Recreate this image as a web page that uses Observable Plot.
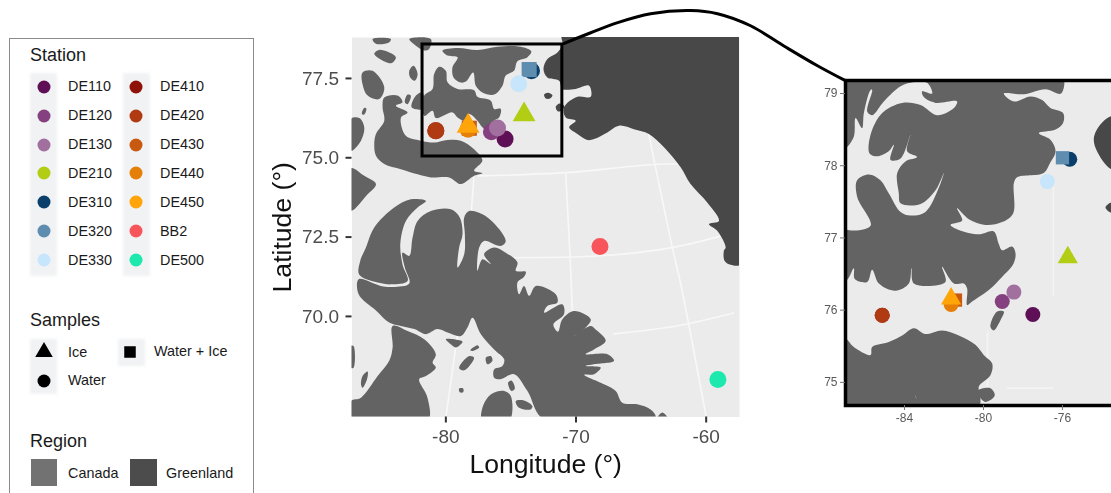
<!DOCTYPE html>
<html>
<head>
<meta charset="utf-8">
<script src="https://cdn.jsdelivr.net/npm/d3@7"></script>
<script src="https://cdn.jsdelivr.net/npm/@observablehq/plot@0.6"></script>
<style>
html,body{margin:0;padding:0;background:#fff;overflow:hidden;width:1111px;height:493px;}
#page{position:relative;width:1111px;height:493px;overflow:hidden;font-family:"Liberation Sans",Arial,sans-serif;}
#page > svg{position:absolute;left:0;top:0;max-width:none;filter:blur(0.35px);}
#legend{position:absolute;left:9px;top:38px;width:243px;height:470px;border:1px solid #8a8a8a;background:#fff;}
.t,.l,.k{position:absolute;}
.t{font-size:18px;color:#1a1a1a;line-height:20px;}
.l{font-size:14.4px;color:#1a1a1a;line-height:18px;white-space:nowrap;}
.k{background:#f1f2f4;filter:blur(1.5px);}
</style>
</head>
<body>
<div id="page"><div id="legend"></div></div>
<script>
// ---- stations ----
const stations = ["DE110","DE120","DE130","DE210","DE310","DE320","DE330","DE410","DE420","DE430","DE440","DE450","BB2","DE500"];
const stationColors = ["#5e0f55","#84407f","#a1709f","#b2cd14","#0a3f6b","#5f8db0","#c8e6fb","#8f1209","#b03a12","#c75a10","#e57f07","#ffa50a","#f8545c","#1de9ae"];
const sampleTypes = ["Ice","Water + Ice","Water"];
const sampleSymbols = ["triangle","square","circle"];
const stationSamples = ["Water","Water","Water","Ice","Water","Water + Ice","Water","Water","Water","Water + Ice","Water","Ice","Water","Water"];
const regionNames = ["Canada","Greenland"];
const regionColors = ["#636363","#484848"];
const legendRegionColors = ["#727272","#4c4c4c"];
const waterColor = "#ebebeb";

// main map positions of the stations (lon, lat)
const mainLon = [-75.45,-76.5,-76.03,-73.99,-73.42,-73.6,-74.4,-80.77,-80.77,-78.2,-78.29,-78.29,-68.16,-59.1];
const mainLat = [75.59,75.82,75.94,76.36,77.74,77.78,77.33,75.85,75.85,75.93,75.9,76.0,72.2,68.01];
// zoomed map positions
const insetLon = [-77.5,-79.05,-78.46,-75.73,-75.63,-76.0,-76.77,-85.13,-85.13,-81.42,-81.64,-81.64];
const insetLat = [75.94,76.12,76.25,76.73,78.09,78.11,77.78,75.93,75.93,76.14,76.08,76.16];

// main map: zoom box and the curve leading to the zoomed map
const zoomBoxLon = [-81.79,-71.05];
const zoomBoxLat = [75.04,78.57];
const connector = [[-70.94,78.6],[-68.87,78.94],[-66.8,79.26],[-64.27,79.54],[-61.2,79.64],[-59.13,79.54],[-56.59,79.16],[-54.06,78.53],[-51.45,77.9],[-49.3,77.43]];

// main map graticule as it shows through the water
const mainGrid = [
 [[-77.85,74.37],[-78.39,71.75],[-80,66.83]],
 [[-70.79,74.5],[-70.41,71.44],[-69.97,66.83]],
 [[-64.42,75.76],[-62.6,72.17],[-61.96,71.03],[-60,66.83]],
 [[-77.54,74.43],[-70.79,74.53],[-64.27,74.78],[-61.45,74.81]],
 [[-74.78,71.85],[-68.1,71.91],[-62.73,72.16],[-57.36,72.7]],
 [[-67.1,69.45],[-62.27,69.7],[-57.9,70.11]]
];

// main map coastlines, Greenland
const mainGreenland = [
 [[-71.04,78.9],[-57.3,78.9],[-57.3,71.65],[-58.12,71.63],[-58.58,71.75],[-58.64,72.07],[-58.5,72.17],[-59.15,72.7],[-59.79,72.91],[-59.02,73.01],[-59.92,73.59],[-61.2,74.17],[-61.96,74.7],[-63.24,75.33],[-64.4,75.75],[-65.55,75.9],[-66.7,76.01],[-67.59,75.8],[-68.62,75.59],[-69.13,75.56],[-69.89,75.75],[-70.53,75.96],[-70.02,76.17],[-70.79,76.27],[-70.92,76.59],[-69.89,76.92],[-68.87,76.92],[-69.0,77.27],[-70.02,77.17],[-71.04,77.17],[-71.3,77.43],[-72.2,77.53],[-72.5,77.8],[-72.2,78.11],[-71.43,78.32],[-71.04,78.56]],
 [[-72.45,76.99],[-72.15,77.05],[-71.81,76.97],[-71.99,76.87],[-72.33,76.87]],
 [[-71.56,76.61],[-71.25,76.71],[-70.92,76.64],[-71.04,76.5],[-71.38,76.46]]
];

// main map coastlines, Canada
const mainCanada = [
 [[-80.26,78.38],[-79.1,78.46],[-77.57,78.4],[-76.03,78.5],[-74.24,78.5],[-73.43,78.35],[-73.73,78.17],[-74.5,78.04],[-74.76,77.74],[-75.4,77.59],[-75.65,77.27],[-76.29,76.99],[-77.19,77.06],[-77.7,77.27],[-77.9,77.69],[-78.47,77.4],[-78.85,77.37],[-79.41,77.53],[-79.49,77.85],[-79.1,78.17],[-79.87,78.22]],
 [[-81.66,76.96],[-81.02,77.17],[-80.9,77.64],[-80.51,77.87],[-80,77.74],[-79.87,77.38],[-79.1,77.17],[-77.83,77.13],[-77.57,76.92],[-76.55,76.8],[-76.29,76.54],[-75.78,76.54],[-75.91,76.27],[-76.29,76.17],[-76.8,75.85],[-77.19,75.96],[-77.57,76.17],[-78.21,76.38],[-78.59,76.17],[-79.1,76.27],[-79.49,76.43],[-80.77,76.25],[-81.02,76.48],[-81.66,76.32]],
 [[-84.73,76.9],[-83.71,76.96],[-83.33,76.75],[-83.84,76.64],[-82.94,76.43],[-83.45,76.27],[-83.07,75.69],[-81.92,75.54],[-80.9,75.48],[-79.87,75.56],[-78.85,75.54],[-77.83,75.27],[-77.19,74.91],[-77.83,74.59],[-77.19,74.51],[-77.83,74.43],[-78.85,74.17],[-79.74,74.38],[-81.15,74.38],[-82.17,74.48],[-83.45,74.64],[-84.73,74.8],[-85.37,75.06],[-85.5,75.43],[-85.37,75.75],[-84.73,76.17],[-84.86,76.59]],
 [[-85.5,78.27],[-85.12,78.4],[-83.84,78.17],[-84.22,77.98]],
 [[-85.63,78.74],[-84.22,78.74],[-84.35,78.64],[-85.37,78.59]],
 [[-82.81,78.74],[-81.15,78.74],[-81.28,78.43],[-81.66,78.38],[-82.3,78.53]],
 [[-82.81,77.74],[-82.48,77.9],[-82.17,77.64],[-82.38,77.43],[-82.74,77.53]],
 [[-87.3,76.22],[-86.65,76.25],[-86.27,75.96],[-86.52,75.54],[-87.3,75.22]],
 [[-86.45,76.38],[-86.27,76.57],[-86.11,76.55],[-86.27,76.36]],
 [[-83.15,76.75],[-82.94,76.99],[-82.69,76.96],[-82.94,76.69]],
 [[-82.63,76.59],[-82.3,76.96],[-81.79,77.06],[-81.79,76.54]],
 [[-86.4,77.69],[-85.63,77.74],[-84.73,77.22],[-85.12,76.85],[-86.01,76.96],[-86.4,77.32]],
 [[-87.3,74.67],[-86.27,74.43],[-85.37,74.17],[-86.01,73.85],[-87.3,73.33]],
 [[-86.7,71.17],[-84.99,70.96],[-84.09,70.93],[-82.81,71.04],[-83.15,71.54],[-83.33,72.01],[-82.81,71.91],[-82.56,72.48],[-82.17,73.01],[-81.15,73.32],[-79.62,73.38],[-78.93,73.12],[-78.72,72.59],[-78.98,72.17],[-79.1,71.54],[-78.59,71.96],[-78.54,72.59],[-78.59,73.12],[-78.21,73.32],[-76.8,73.12],[-75.4,72.38],[-75.78,72.22],[-77.06,72.38],[-77.44,72.17],[-77.57,71.44],[-77.19,71.8],[-76.55,71.65],[-77.06,71.96],[-76.29,72.17],[-75.4,72.01],[-74.5,71.7],[-74.63,71.44],[-73.86,71.41],[-73.99,71.25],[-74.5,71.07],[-74.37,70.7],[-73.99,70.96],[-73.6,70.65],[-73.09,70.96],[-71.56,70.7],[-71.43,70.44],[-72.2,70.33],[-72.45,70.12],[-71.05,70.38],[-70.92,70.07],[-71.74,69.75],[-71.38,69.52],[-71.05,69.91],[-70.15,70.17],[-68.87,69.91],[-69.26,69.65],[-70.15,69.38],[-68.87,69.7],[-68.49,69.59],[-67.72,69.23],[-68.62,68.96],[-69.26,68.81],[-67.59,68.81],[-67.08,68.6],[-68.62,68.49],[-69.26,68.44],[-68.1,68.39],[-68.62,68.18],[-69.38,68.16],[-67.85,67.86],[-66.95,67.65],[-66.44,67.28],[-65.29,67.23],[-64.27,67.07],[-63.88,66.86],[-64,66.75],[-72.45,66.75],[-73.73,67.65],[-74.76,68.18],[-75.78,68.02],[-76.29,68.07],[-76.29,68.33],[-75.65,68.44],[-75.52,68.65],[-76.29,68.96],[-77.31,69.44],[-77.95,69.96],[-78.34,69.65],[-78.85,69.38],[-79.87,69.49],[-80.64,69.6],[-81.53,69.44],[-82.43,69.6],[-83.45,69.7],[-84.35,69.81],[-85.37,70.19],[-86.7,70.7]],
 [[-86.65,71.31],[-85.04,71.05],[-84.17,71.01],[-82.94,71.12],[-83.33,71.64],[-83.5,72.28],[-83.07,73.01],[-82.17,73.43],[-81.53,73.64],[-82.69,73.69],[-83.97,73.43],[-85.5,72.8],[-86.14,72.17],[-86.58,71.75]],
 [[-84.09,69.7],[-82.94,69.54],[-81.66,69.28],[-80.77,68.81],[-81.02,68.54],[-80.77,68.39],[-81.53,68.12],[-82.05,68.02],[-81.41,67.44],[-81.41,66.7],[-87.3,66.7],[-87.3,67.33],[-86.52,67.44],[-85.24,68.12],[-84.35,68.6],[-84.09,69.02]],
 [[-78.98,68.37],[-78.21,68.75],[-77.83,68.7],[-78.59,68.3]],
 [[-78.13,68.93],[-77.57,69.09],[-77.44,69.02],[-77.95,68.91]],
 [[-76.93,68.7],[-76.55,68.75],[-76.42,68.6],[-76.8,68.49]],
 [[-75.22,67.91],[-74.96,67.98],[-74.7,67.73],[-74.96,67.65]],
 [[-74.63,67.33],[-73.99,67.35],[-73.35,67.17],[-73.48,67.07],[-74.37,67.12]],
 [[-77.19,66.7],[-77.19,67.12],[-76.55,67.54],[-75.52,67.65],[-75.01,67.49],[-75.14,66.7]],
 [[-80,69.28],[-79.36,69.28],[-78.72,69.2],[-79.23,69.02],[-79.62,69.12]],
 [[-78.98,67.73],[-78.67,67.73],[-78.67,67.61],[-78.93,67.61]],
 [[-86.52,67.86],[-86.4,68.12],[-86.01,68.26],[-86.06,68.02],[-86.4,67.75]],
 [[-87.3,69.07],[-87.09,69.07],[-87.09,68.38],[-87.3,68.38]],
 [[-63.76,66.78],[-63.37,66.97],[-62.94,66.78]]
];

// zoomed map coastlines
const insetCanada = [
 [[-86.99,79.3],[-76.07,79.3],[-76.07,79.0],[-76.86,79.06],[-77.96,78.99],[-78.97,79.0],[-78.46,78.89],[-77.62,78.96],[-77.03,78.91],[-76.61,78.8],[-75.97,78.73],[-75.97,78.59],[-76.35,78.5],[-77.2,78.45],[-76.61,78.36],[-76.35,78.2],[-76.64,78.03],[-76.95,77.9],[-78.3,77.84],[-78.46,77.76],[-78.5,77.34],[-79.06,77.22],[-79.9,77.18],[-80.74,77.26],[-81.34,77.41],[-81.08,77.24],[-81.67,77.18],[-81.25,77.11],[-80.24,77.05],[-79.48,77.09],[-79.23,76.92],[-79.06,76.83],[-78.55,76.88],[-78.38,76.79],[-78.47,76.65],[-79.06,76.46],[-79.73,76.28],[-80.58,76.12],[-80.83,76.07],[-80.83,76.3],[-81,76.37],[-81.5,76.37],[-82.1,76.6],[-81.93,76.39],[-83.53,76.37],[-83.65,76.58],[-83.78,76.37],[-84.46,76.27],[-85.3,76.37],[-85.64,76.56],[-85.89,76.39],[-86.52,76.43],[-86.57,76.58],[-86.91,76.42],[-87.2,76.42],[-87.2,79.3]],
 [[-87.2,75.61],[-86.99,75.61],[-86.57,75.49],[-85.72,75.38],[-85.64,75.49],[-84.8,75.56],[-84.12,75.65],[-83.53,75.75],[-82.94,75.67],[-82.1,75.72],[-81.25,75.65],[-80.41,75.52],[-79.99,75.38],[-79.56,75.26],[-79.65,75.1],[-80.24,74.94],[-80.15,74.8],[-80.32,74.6],[-83.07,74.6],[-83.45,74.82],[-83.31,74.6],[-87.2,74.6]],
 [[-80.32,74.88],[-79.65,74.92],[-79.43,74.82],[-79.9,74.73],[-80.2,74.8]],
 [[-79.65,75.77],[-79.31,75.98],[-78.97,75.98],[-79.14,75.86],[-79.48,75.72]]
];
const insetWater = [
 [[-87.2,78.24],[-86.99,78.24],[-86.57,78.4],[-86.48,78.66],[-86.15,78.52],[-86.06,78.73],[-85.72,79.05],[-85.64,79.05],[-85.89,78.75],[-85.64,78.7],[-85.05,78.89],[-84.2,79.1],[-83.7,79.15],[-82.86,79.15],[-82.6,79.0],[-83.11,79.03],[-83.02,78.95],[-82.43,78.87],[-81.34,78.89],[-81.5,78.8],[-82.35,78.7],[-83.19,78.84],[-84.12,78.87],[-85.13,78.73],[-85.72,78.43],[-85.77,78.17],[-85.39,78.13],[-84.8,78.2],[-84.54,78.29],[-84.71,78.08],[-84.2,78.1],[-83.7,78.43],[-83.87,78.2],[-83.36,78.12],[-83.95,78.06],[-84.37,77.9],[-84.29,77.62],[-84.2,77.48],[-83.19,77.47],[-82.43,77.66],[-82.01,77.9],[-82.27,77.69],[-82.94,77.36],[-83.7,77.31],[-84.2,77.36],[-84.8,77.62],[-85.22,77.8],[-85.81,77.88],[-86.4,77.8],[-86.4,77.57],[-85.72,77.17],[-87.2,77.15]]
];
const insetGreenland = [
 [[-73.52,78.69],[-74.08,78.57],[-74.41,78.38],[-74.25,78.2],[-73.52,77.95],[-72.5,77.95],[-72.5,78.69]],
 [[-73.82,77.42],[-73.52,77.49],[-73.23,77.43],[-73.52,77.35]]
];
const insetGrid = [
 [[-76.46,77.7],[-76.46,76.2]],
 [[-78.77,74.92],[-76.5,74.92]],
 [[-79.8,75.7],[-79.8,74.9]]
];

const xTicksMain = [-80,-70,-60], yTicksMain = [70,72.5,75,77.5];
const xTicksInset = [-84,-80,-76], yTicksInset = [75,76,77,78,79];

// ---- helpers ----
const rows = (polys, tag) => polys.flatMap((p,i) => p.map(([x,y]) => ({x,y,id:tag+i})));
const points = (lons,lats) => lons.map((x,i) => ({x,y:lats[i],station:stations[i],sample:stationSamples[i]}));
const fontFamily = '"Liberation Sans",Arial,sans-serif';
const colorScale = {domain:stations,range:stationColors};
const symbolScale = {domain:sampleTypes,range:sampleSymbols};
const land = (polys,fill,tag) => Plot.line(rows(polys,tag),{x:"x",y:"y",z:"id",fill,stroke:"none",curve:"catmull-rom-closed",clip:"frame"});
const grid = (lines,color,w) => Plot.line(rows(lines,"g"),{x:"x",y:"y",z:"id",stroke:color,strokeWidth:w,curve:"catmull-rom",clip:"frame"});
const fmt1 = d => d.toFixed(1), fmt0 = d => String(d);

// ---- main map ----
const mainPlot = Plot.plot({
  width:1111, height:493,
  marginLeft:351.5, marginRight:372, marginTop:37, marginBottom:76.5,
  style:{background:"transparent",fontFamily,overflow:"visible"},
  x:{domain:[-87.21,-57.44]},
  y:{domain:[66.83,78.79]},
  color:colorScale, symbol:symbolScale,
  marks:[
    Plot.frame({fill:waterColor,stroke:"none"}),
    grid(mainGrid,"#f8f8f8",1.6),
    land(mainCanada,regionColors[0],"c"),
    land(mainGreenland,regionColors[1],"g"),
    Plot.dot(points(mainLon,mainLat),{x:"x",y:"y",fill:"station",symbol:"sample",r:8.5,stroke:"none"}),
    Plot.rect([0],{x1:zoomBoxLon[0],x2:zoomBoxLon[1],y1:zoomBoxLat[0],y2:zoomBoxLat[1],fill:"none",stroke:"#000",strokeWidth:3}),
    Plot.line(connector,{x:d=>d[0],y:d=>d[1],stroke:"#000",strokeWidth:3,curve:"catmull-rom"}),
    Plot.axisX({ticks:xTicksMain,anchor:"bottom",tickSize:6,tickPadding:6,tickFormat:fmt0,fontSize:19,stroke:"#333",strokeWidth:2,fill:"#4d4d4d",label:null}),
    Plot.axisY({ticks:yTicksMain,anchor:"left",tickSize:6,tickPadding:7,tickFormat:fmt1,fontSize:19,stroke:"#333",strokeWidth:2,fill:"#4d4d4d",label:null}),
    Plot.text(["Longitude (°)"],{x:[-72.33],y:[66.83],dy:47,fontSize:26.6,fill:"#111",lineAnchor:"middle"}),
    Plot.text(["Latitude (°)"],{x:[-87.21],y:[72.81],dx:-70,rotate:-90,fontSize:26.6,fill:"#111",lineAnchor:"middle"})
  ]
});
document.getElementById("page").appendChild(mainPlot);

// ---- zoomed map ----
const insetPlot = Plot.plot({
  width:1131, height:493,
  marginLeft:845, marginRight:11, marginTop:80, marginBottom:88,
  style:{background:"transparent",fontFamily,overflow:"visible"},
  x:{domain:[-86.99,-73.06]},
  y:{domain:[74.68,79.18]},
  color:colorScale, symbol:symbolScale,
  marks:[
    Plot.frame({fill:waterColor,stroke:"none"}),
    grid(insetGrid,"#f4f4f4",1.6),
    land(insetCanada,regionColors[0],"c"),
    land(insetWater,waterColor,"w"),
    land(insetGreenland,regionColors[1],"g"),
    Plot.dot(points(insetLon,insetLat),{x:"x",y:"y",fill:"station",symbol:"sample",r:7.5,stroke:"none"}),
    Plot.frame({stroke:"#000",strokeWidth:3.5}),
    Plot.axisX({ticks:xTicksInset,anchor:"bottom",tickSize:5,tickPadding:3,tickFormat:fmt0,fontSize:12,stroke:"#777",fill:"#5a5a5a",label:null}),
    Plot.axisY({ticks:yTicksInset,anchor:"left",tickSize:5,tickPadding:3,tickFormat:fmt0,fontSize:12,stroke:"#777",fill:"#5a5a5a",label:null})
  ]
});
document.getElementById("page").appendChild(insetPlot);

// ---- legend ----
const legend = document.getElementById("legend");
const add = (cls,left,top,w,h,text,extra) => {
  const e = document.createElement("div");
  e.className = cls;
  e.style.left = (left-10)+"px"; e.style.top = (top-39)+"px";
  if (w) e.style.width = w+"px";
  if (h) e.style.height = h+"px";
  if (text) e.textContent = text;
  if (extra) Object.assign(e.style,extra);
  legend.appendChild(e);
  return e;
};
const symbolPaths = {triangle:d3.symbolTriangle,square:d3.symbolSquare,circle:d3.symbolCircle};
const addSymbol = (cx,cy,type,color,r) => {
  const s = document.createElementNS("http://www.w3.org/2000/svg","svg");
  s.setAttribute("width",24); s.setAttribute("height",24);
  Object.assign(s.style,{position:"absolute",left:(cx-22)+"px",top:(cy-51)+"px"});
  const p = document.createElementNS("http://www.w3.org/2000/svg","path");
  p.setAttribute("d",d3.symbol(symbolPaths[type],Math.PI*r*r)());
  p.setAttribute("transform","translate(12,12)");
  p.setAttribute("fill",color);
  s.appendChild(p); legend.appendChild(s);
};
add("t",30,45,0,0,"Station");
add("k",30,73,27,203); add("k",123,73,27,203);
const rowsPerColumn = 7;
stations.forEach((st,i) => {
  const col = Math.floor(i/rowsPerColumn), row = i%rowsPerColumn;
  const cy = 86.7+row*28.9, cx = col?136:44;
  addSymbol(cx,cy,"circle",stationColors[i],6.5);
  add("l",col?160:68,cy-9.5,0,0,st);
});
add("t",30,310,0,0,"Samples");
add("k",30,339,27,55); add("k",118,339,27,27);
addSymbol(44,352,"triangle","#000",6.5);
add("l",68,343,0,0,sampleTypes[0]);
addSymbol(130,352,"square","#000",6.5);
add("l",154,342,0,0,sampleTypes[1]);
addSymbol(44,381,"circle","#000",6.5);
add("l",68,371,0,0,sampleTypes[2]);
add("t",30,431,0,0,"Region");
regionNames.forEach((n,i) => {
  const left = i?130:30.5;
  const sw = add("l",left,459,26.5,27,"");
  sw.style.background = legendRegionColors[i];
  add("l",i?166:68,464,0,0,n);
});
</script>
</body>
</html>
